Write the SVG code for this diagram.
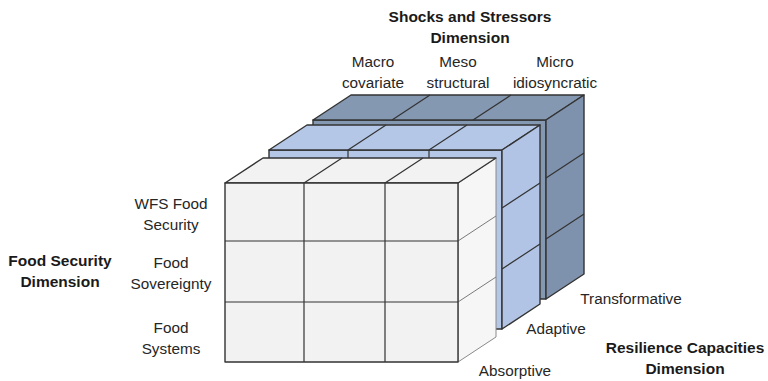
<svg xmlns="http://www.w3.org/2000/svg" width="768" height="381" viewBox="0 0 768 381">
  <style>
    .edge { stroke: #333; stroke-width: 1.4; stroke-linejoin: round; }
    .div { fill: none; stroke: #333; stroke-width: 1.2; }
    .lite { fill: none; stroke: #7a7a7a; stroke-width: 1; }
    .w-face { fill: #f2f2f2; }
    .w-side { fill: #f6f6f6; stroke: #8a8a8a; stroke-width: 1; }
    .b-face { fill: #b4c7e7; }
    .b-side { fill: #b1c4e5; }
    .d-face { fill: #8598b2; }
    .d-side { fill: #7f92ad; }
    .lbl { font-family: "Liberation Sans", Arial, sans-serif; font-size: 15.3px; fill: #262626; text-anchor: middle; }
    .ttl { font-family: "Liberation Sans", Arial, sans-serif; font-size: 15.5px; font-weight: bold; fill: #1a1a1a; text-anchor: middle; }
  </style>

  <!-- Slab geometry: front origin (x0,y0), columns 79/81/73, rows 58/61/60, depth (38,-25) -->

  <!-- Micro / back slab -->
  <g id="slab-transformative">
    <rect class="d-face edge" x="313" y="120" width="233" height="179"/>
    <polygon class="d-face edge" points="313,120 351,95 584,95 546,120"/>
    <path class="div" d="M392,120 L430,95 M473,120 L511,95"/>
    <polygon class="d-side edge" points="546,120 584,95 584,274 546,299"/>
    <path class="div" d="M546,178 L584,153 M546,239 L584,214"/>
  </g>

  <!-- Meso / middle slab -->
  <g id="slab-adaptive">
    <rect class="b-face edge" x="269" y="150" width="233" height="179"/>
    <path class="div" d="M348,150 V329 M429,150 V329"/>
    <polygon class="b-face edge" points="269,150 307,125 540,125 502,150"/>
    <path class="div" d="M348,150 L386,125 M429,150 L467,125"/>
    <polygon class="b-side edge" points="502,150 540,125 540,304 502,329"/>
    <path class="div" d="M502,208 L540,183 M502,269 L540,244"/>
  </g>

  <!-- Macro / front slab -->
  <g id="slab-absorptive">
    <polygon class="w-side" points="458,183 496,158 496,337 458,362"/>
    <path class="lite" d="M458,241 L496,216 M458,302 L496,277"/>
    <polygon class="w-face edge" points="225,183 263,158 496,158 458,183"/>
    <path class="div" d="M304,183 L342,158 M385,183 L423,158"/>
    <rect class="w-face edge" x="225" y="183" width="233" height="179"/>
    <path class="div" d="M304,183 V362 M385,183 V362 M225,241 H458 M225,302 H458"/>
  </g>

  <!-- Axis titles -->
  <g id="title-shocks">
    <text class="ttl" x="470" y="22">Shocks and Stressors</text>
    <text class="ttl" x="470" y="43">Dimension</text>
  </g>
  <g id="title-food">
    <text class="ttl" x="60" y="266">Food Security</text>
    <text class="ttl" x="60" y="287">Dimension</text>
  </g>
  <g id="title-resilience">
    <text class="ttl" x="685" y="353">Resilience Capacities</text>
    <text class="ttl" x="685" y="374">Dimension</text>
  </g>

  <!-- Shock scale labels -->
  <g id="label-macro">
    <text class="lbl" x="373" y="67">Macro</text>
    <text class="lbl" x="373" y="88">covariate</text>
  </g>
  <g id="label-meso">
    <text class="lbl" x="458" y="67">Meso</text>
    <text class="lbl" x="458" y="88">structural</text>
  </g>
  <g id="label-micro">
    <text class="lbl" x="555" y="67">Micro</text>
    <text class="lbl" x="555" y="88">idiosyncratic</text>
  </g>

  <!-- Food security rows -->
  <g id="label-wfs">
    <text class="lbl" x="171" y="209">WFS Food</text>
    <text class="lbl" x="171" y="230">Security</text>
  </g>
  <g id="label-sovereignty">
    <text class="lbl" x="171" y="268">Food</text>
    <text class="lbl" x="171" y="289">Sovereignty</text>
  </g>
  <g id="label-systems">
    <text class="lbl" x="171" y="333">Food</text>
    <text class="lbl" x="171" y="354">Systems</text>
  </g>

  <!-- Capacity labels -->
  <g id="label-capacities">
    <text class="lbl" x="631" y="304">Transformative</text>
    <text class="lbl" x="556" y="334">Adaptive</text>
    <text class="lbl" x="515" y="376">Absorptive</text>
  </g>
</svg>
